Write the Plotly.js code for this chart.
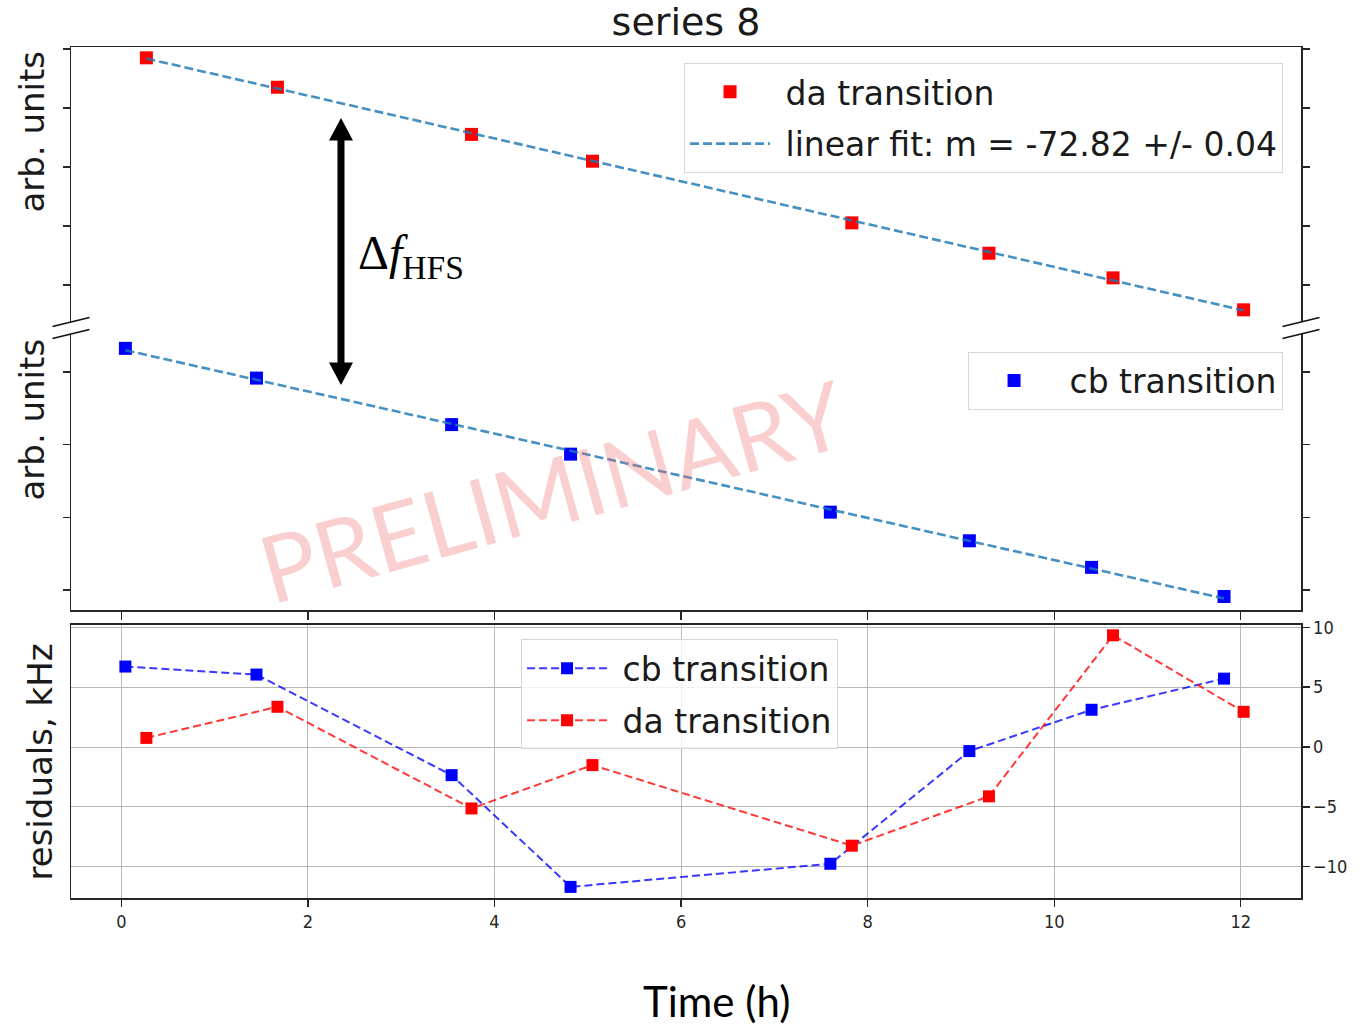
<!DOCTYPE html>
<html>
<head>
<meta charset="utf-8">
<script src="https://cdn.plot.ly/plotly-3.0.1.min.js"></script>
<style>
  html, body { margin: 0; padding: 0; background: #ffffff; }
  #chart { width: 1365px; height: 1026px; }
</style>
</head>
<body>
<div id="chart"></div>
<script>
// Measurement times (hours) for the two transitions
const hoursCb = [0.043, 1.448, 3.54, 4.815, 7.60, 9.09, 10.40, 11.82];
const hoursDa = [0.268, 1.673, 3.753, 5.05, 7.83, 9.30, 10.63, 12.03];

// Transition frequencies, arbitrary offset (kHz)
const freqCb = [831.4, 729.1, 569.2, 467.5, 267.9, 169.4, 77.9, -22.3];
const freqDa = [770.1, 670.4, 510.5, 419.6, 210.5, 107.6, 24.1, -84.2];

// Residuals of the linear fits (kHz)
const residCb = [6.72, 6.05, -2.35, -11.68, -9.75, -0.34, 3.11, 5.71];
const residDa = [0.76, 3.36, -5.13, -1.51, -8.24, -4.12, 9.33, 2.94];

// Tick positions
const hourTicks = [0, 2, 4, 6, 8, 10, 12];
const residTicks = [-10, -5, 0, 5, 10];
const daTicks = [0, 200, 400, 600, 800];
const cbTicks = [0, 250, 500, 750];

const fitLabel = 'linear fit: m = -72.82 +/- 0.04';

// Ordinary least-squares straight line
function linFit(x, y) {
  const n = x.length;
  const mx = x.reduce((a, b) => a + b, 0) / n;
  const my = y.reduce((a, b) => a + b, 0) / n;
  let sxy = 0, sxx = 0;
  for (let i = 0; i < n; i++) {
    sxy += (x[i] - mx) * (y[i] - my);
    sxx += (x[i] - mx) * (x[i] - mx);
  }
  const m = sxy / sxx;
  return { m: m, b: my - m * mx };
}
function fitLine(x, y) {
  const f = linFit(x, y);
  const xs = [x[0], x[x.length - 1]];
  return { x: xs, y: xs.map(v => f.b + f.m * v) };
}

const fitDa = fitLine(hoursDa, freqDa);
const fitCb = fitLine(hoursCb, freqCb);

// a little breathing room between legend symbol and label
const pad = s => '\u00a0' + s;

const SANS = 'DejaVu Sans, Verdana, sans-serif';
const TICKFONT = { family: 'DejaVu Sans Condensed, DejaVu Sans, sans-serif', size: 18, color: '#262626' };
const LEGFONT = { family: SANS, size: 33, color: '#1a1a1a' };
const FITCOLOR = 'rgba(31,119,180,0.82)';
const AX = '#262626';

const traces = [
  // upper panel: da transition
  { x: hoursDa, y: freqDa, xaxis: 'x3', yaxis: 'y3', type: 'scatter', mode: 'markers',
    name: pad('da transition'), legend: 'legend', legendgroup: 'a',
    marker: { symbol: 'square', size: 13, color: '#ff0000' } },
  { x: fitDa.x, y: fitDa.y, xaxis: 'x3', yaxis: 'y3', type: 'scatter', mode: 'lines',
    name: pad(fitLabel), legend: 'legend', legendgroup: 'b',
    line: { color: FITCOLOR, width: 2.6, dash: '9px,4px' } },
  // middle panel: cb transition
  { x: hoursCb, y: freqCb, xaxis: 'x2', yaxis: 'y2', type: 'scatter', mode: 'markers',
    name: pad('cb transition'), legend: 'legend2',
    marker: { symbol: 'square', size: 13, color: '#0000ff' } },
  { x: fitCb.x, y: fitCb.y, xaxis: 'x2', yaxis: 'y2', type: 'scatter', mode: 'lines',
    showlegend: false,
    line: { color: FITCOLOR, width: 2.6, dash: '9px,4px' } },
  // lower panel: residuals
  { x: hoursCb, y: residCb, xaxis: 'x', yaxis: 'y', type: 'scatter', mode: 'lines+markers',
    name: pad('cb transition'), legend: 'legend3', legendgroup: 'c',
    line: { color: 'rgba(0,0,255,0.78)', width: 2, dash: '8px,4px' },
    marker: { symbol: 'square', size: 12, color: '#0000ff' } },
  { x: hoursDa, y: residDa, xaxis: 'x', yaxis: 'y', type: 'scatter', mode: 'lines+markers',
    name: pad('da transition'), legend: 'legend3', legendgroup: 'd',
    line: { color: 'rgba(255,0,0,0.78)', width: 2, dash: '8px,4px' },
    marker: { symbol: 'square', size: 12, color: '#ff0000' } }
];

const xRange = [-0.54, 12.645];

// Diagonal break marks on the split axis
function breakMark(xa, ya) {
  return { type: 'line', xref: 'paper', yref: 'paper',
    xsizemode: 'pixel', ysizemode: 'pixel', xanchor: xa, yanchor: ya,
    x0: -18.5, x1: 18.5, y0: -4.5, y1: 4.5,
    line: { color: '#111', width: 1.6 } };
}
const topBottom = 0.6769, midTop = 0.6627;

const legendBase = {
  font: LEGFONT, bgcolor: 'rgba(255,255,255,0.8)', bordercolor: '#d6d6d6', borderwidth: 1,
  itemwidth: 80, traceorder: 'grouped', tracegroupgap: 6
};

const layout = {
  width: 1365, height: 1026,
  margin: { l: 71, r: 64, t: 47, b: 128, pad: 0 },
  paper_bgcolor: '#ffffff', plot_bgcolor: '#ffffff',
  showlegend: true,
  title: { text: 'series 8', x: 0.5, xref: 'paper', xanchor: 'center',
           y: 0.9786, yref: 'container', yanchor: 'middle',
           font: { family: SANS, size: 38, color: '#1a1a1a' } },
  xaxis: { anchor: 'y', range: xRange, tickvals: hourTicks, ticks: 'outside', ticklen: 7,
           tickwidth: 1.3, tickcolor: AX, showline: true, linecolor: AX, linewidth: 1.5,
           mirror: true, showgrid: true, gridcolor: '#b8b8b8', gridwidth: 1, zeroline: false,
           tickfont: TICKFONT },
  yaxis: { domain: [0, 0.3208], range: [-12.61, 10.19], side: 'right', tickvals: residTicks,
           ticks: 'outside', ticklen: 7, tickwidth: 1.3, tickcolor: AX, showline: true,
           linecolor: AX, linewidth: 1.5, mirror: true, showgrid: true, gridcolor: '#b8b8b8',
           gridwidth: 1, zeroline: false, tickfont: TICKFONT },
  xaxis2: { anchor: 'y2', range: xRange, tickvals: hourTicks, ticks: 'outside', ticklen: 8,
            tickwidth: 1.3, tickcolor: AX, showticklabels: false, showline: true,
            linecolor: AX, linewidth: 1.5, showgrid: false, zeroline: false },
  yaxis2: { domain: [0.3384, midTop], range: [-68.8, 880.7], tickvals: cbTicks,
            ticks: 'outside', ticklen: 7, tickwidth: 1.3, tickcolor: AX, showticklabels: false,
            showline: true, linecolor: AX, linewidth: 1.5, mirror: 'ticks', showgrid: false,
            zeroline: false },
  xaxis3: { anchor: 'y3', side: 'top', range: xRange, ticks: '', showticklabels: false,
            showline: true, linecolor: AX, linewidth: 1.5, showgrid: false, zeroline: false },
  yaxis3: { domain: [topBottom, 1], range: [-125.4, 806.8], tickvals: daTicks,
            ticks: 'outside', ticklen: 7, tickwidth: 1.3, tickcolor: AX, showticklabels: false,
            showline: true, linecolor: AX, linewidth: 1.5, mirror: 'ticks', showgrid: false,
            zeroline: false },
  legend: Object.assign({}, legendBase, { x: 0.9854, xanchor: 'right', y: 0.9815, yanchor: 'top' }),
  legend2: Object.assign({}, legendBase, { x: 0.9854, xanchor: 'right', y: 0.6420, yanchor: 'top' }),
  legend3: Object.assign({}, legendBase, { x: 0.3659, xanchor: 'left', y: 0.3040, yanchor: 'top' }),
  shapes: [
    breakMark(0, topBottom), breakMark(0, midTop),
    breakMark(1, topBottom), breakMark(1, midTop),
    // double-headed arrow spanning the hyperfine splitting
    { type: 'path', xref: 'paper', yref: 'paper', xsizemode: 'pixel', ysizemode: 'pixel',
      xanchor: 0.2195, yanchor: 0.7597,
      path: 'M -3.5,-111 L -3.5,111 L -12,111 L 0,133.5 L 12,111 L 3.5,111 L 3.5,-111 ' +
            'L 12,-111 L 0,-133.5 L -12,-111 Z',
      fillcolor: '#000000', line: { width: 0 } }
  ],
  annotations: [
    { text: 'arb. units', xref: 'paper', yref: 'paper', x: -0.0321, y: 0.9001,
      xanchor: 'center', yanchor: 'middle', textangle: -90, showarrow: false,
      font: { family: SANS, size: 34, color: '#1a1a1a' } },
    { text: 'arb. units', xref: 'paper', yref: 'paper', x: -0.0321, y: 0.5617,
      xanchor: 'center', yanchor: 'middle', textangle: -90, showarrow: false,
      font: { family: SANS, size: 34, color: '#1a1a1a' } },
    { text: 'residuals, kHz', xref: 'paper', yref: 'paper', x: -0.0248, y: 0.1598,
      xanchor: 'center', yanchor: 'middle', textangle: -90, showarrow: false,
      font: { family: SANS, size: 34, color: '#1a1a1a' } },
    { text: 'Time (h)', xref: 'paper', yref: 'paper', x: 0.5244, y: -0.1205,
      xanchor: 'center', yanchor: 'middle', showarrow: false,
      font: { family: 'Lato, Open Sans, sans-serif', size: 42, color: '#000000' } },
    { text: 'Δ<i>f</i><sub>HFS</sub>', xref: 'paper', yref: 'paper', x: 0.2320, y: 0.7540,
      xanchor: 'left', yanchor: 'middle', showarrow: false,
      font: { family: 'Liberation Serif, Times New Roman, serif', size: 48, color: '#000000' } },
    { text: 'PRELIMINARY', xref: 'paper', yref: 'paper', x: 0.391, y: 0.4794,
      xanchor: 'center', yanchor: 'middle', textangle: -15.5, showarrow: false,
      font: { family: 'Lato, Open Sans, sans-serif', size: 93, color: 'rgba(240,110,110,0.33)' } }
  ]
};

Plotly.newPlot('chart', traces, layout, { displayModeBar: false, staticPlot: true });
</script>
</body>
</html>
